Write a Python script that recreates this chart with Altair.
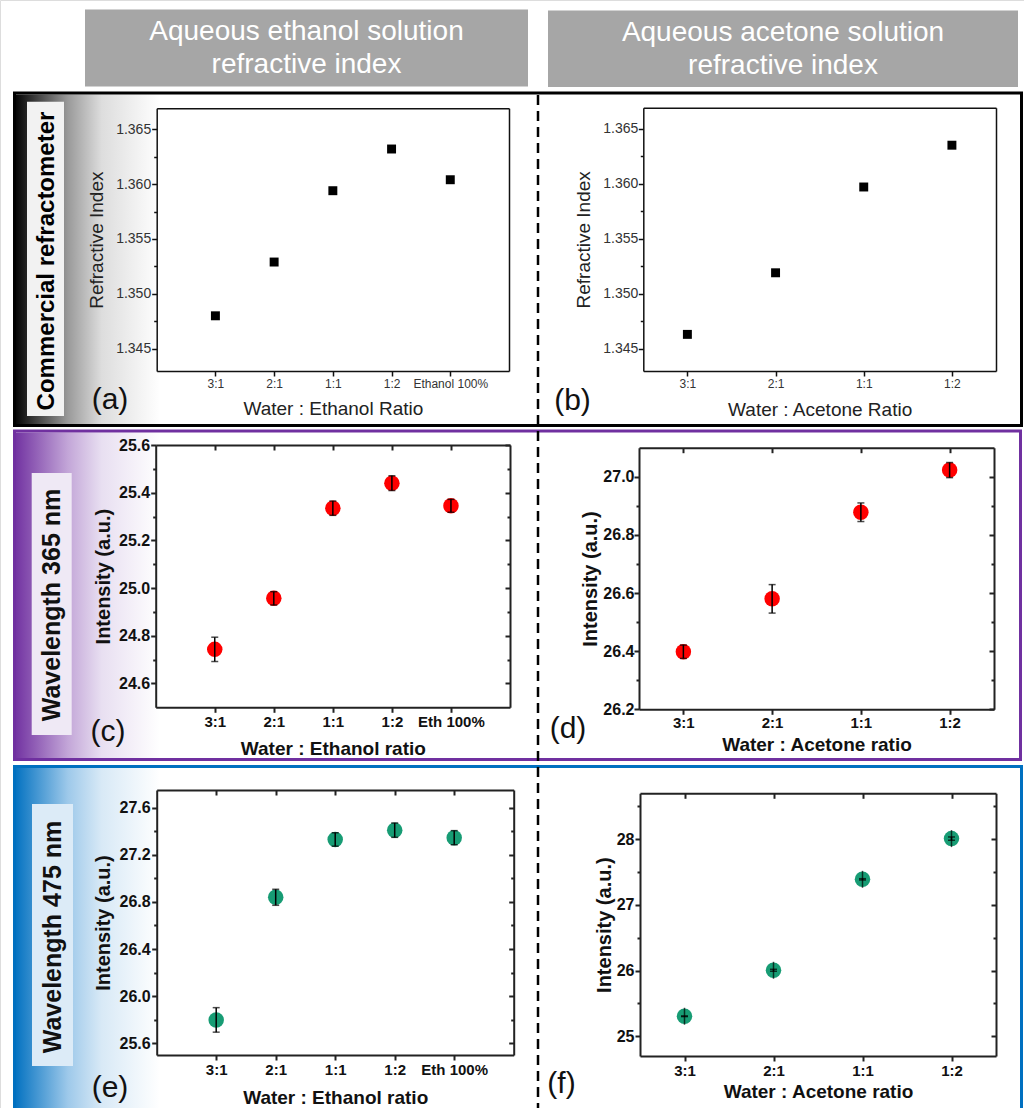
import altair as alt
import pandas as pd

W, H = 1024, 1108
FONT = "Liberation Sans"

# ---------------- data ----------------
ratio_eth_a = ["3:1", "2:1", "1:1", "1:2", "Ethanol 100%"]
ratio_eth = ["3:1", "2:1", "1:1", "1:2", "Eth 100%"]
ratio_ace = ["3:1", "2:1", "1:1", "1:2"]

ri_ethanol = [1.3480, 1.3529, 1.3594, 1.3632, 1.3604]
ri_acetone = [1.3463, 1.3519, 1.3597, 1.3635]

i365_ethanol = [24.743, 24.957, 25.335, 25.440, 25.345]
i365_ethanol_err = [0.051, 0.028, 0.030, 0.031, 0.027]
i365_acetone = [26.398, 26.580, 26.878, 27.023]
i365_acetone_err = [0.023, 0.049, 0.032, 0.026]

i475_ethanol = [25.798, 26.839, 27.330, 27.409, 27.345]
i475_ethanol_err = [0.104, 0.068, 0.057, 0.061, 0.060]
i475_acetone = [25.305, 26.005, 27.390, 28.010]
i475_acetone_err = [0.005, 0.015, 0.010, 0.025]

ri_major = [1.345, 1.350, 1.355, 1.360, 1.365]
ri_minor = [1.3475, 1.3525, 1.3575, 1.3625]
c_major = [24.6, 24.8, 25.0, 25.2, 25.4, 25.6]
c_minor = [24.7, 24.9, 25.1, 25.3, 25.5]
d_major = [26.2, 26.4, 26.6, 26.8, 27.0]
d_minor = [26.3, 26.5, 26.7, 26.9]
e_major = [25.6, 26.0, 26.4, 26.8, 27.2, 27.6]
e_minor = [25.8, 26.2, 26.6, 27.0, 27.4]
f_major = [25, 26, 27, 28]
f_minor = [25.5, 26.5, 27.5, 28.5]

ONE = alt.Data(values=[{"k": 1}])

STY_PLAIN = dict(frame="#111111", fw=1.5, ylab_fs=14, xlab_fs=12, lab_w="normal", lab_c="#333333",
                 ytitle_fs=19, xtitle_fs=19, title_w="normal", title_c="#222222")
STY_BOLD = dict(frame="#222222", fw=2, ylab_fs=16, xlab_fs=15, lab_w="bold", lab_c="#111111",
                ytitle_fs=20, xtitle_fs=19, title_w="bold", title_c="#111111")


def panel(cats, vals, errs, dom, box, pad, majors, minors, fmt, xtitle, ytitle, sty,
          ytitle_x, xtitle_y, ylab_pad, xlab_pad, mark, mirror_ticks, center_tick=False):
    x0, x1, y0, y1 = box
    df = pd.DataFrame({"cat": cats, "v": vals})
    if errs is not None:
        df["lo"] = [v - e for v, e in zip(vals, errs)]
        df["hi"] = [v + e for v, e in zip(vals, errs)]
    xs = alt.Scale(type="point", domain=cats, range=[x0, x1], padding=pad)
    ys = alt.Scale(domain=dom, range=[y1, y0], nice=False, zero=False)
    line = dict(grid=False, domainColor=sty["frame"], domainWidth=sty["fw"],
                tickColor=sty["frame"], tickWidth=sty["fw"], zindex=2)

    xa = alt.Axis(orient="bottom", offset=y1 - H, title=xtitle,
                  titleX=(x0 + x1) / 2, titleY=xtitle_y - y1, titleAlign="center",
                  titleBaseline="middle", titleAngle=0, titleFont=FONT,
                  titleFontSize=sty["xtitle_fs"], titleFontWeight=sty["title_w"],
                  titleColor=sty["title_c"], labelFont=FONT, labelFontSize=sty["xlab_fs"],
                  labelFontWeight=sty["lab_w"], labelColor=sty["lab_c"], labelAngle=0,
                  labelPadding=xlab_pad, labelOverlap=False, labelFlush=False,
                  tickSize=5, **line)
    ya = alt.Axis(orient="left", offset=-x0, values=majors, format=fmt, title=ytitle,
                  titleX=ytitle_x - x0, titleY=(y0 + y1) / 2, titleAngle=270,
                  titleAlign="center", titleBaseline="middle", titleFont=FONT,
                  titleFontSize=sty["ytitle_fs"], titleFontWeight=sty["title_w"],
                  titleColor=sty["title_c"], labelFont=FONT, labelFontSize=sty["ylab_fs"],
                  labelFontWeight=sty["lab_w"], labelColor=sty["lab_c"],
                  labelPadding=ylab_pad, labelOverlap=False, labelFlush=False,
                  tickSize=5, **line)
    # mirror frame: top edge (bottom-oriented axis => ticks point inward) and right edge
    xm = alt.Axis(orient="bottom", offset=y0 - H, title=None, labels=False,
                  ticks=mirror_ticks, tickSize=5, **line)
    ym = alt.Axis(orient="left", offset=-x1, values=majors, title=None, labels=False,
                  ticks=mirror_ticks, tickSize=5, **line)
    ymin_l = alt.Axis(orient="left", offset=-x0, values=minors, title=None, labels=False,
                      domain=False, tickSize=3, **line)
    ymin_r = alt.Axis(orient="left", offset=-x1, values=minors, title=None, labels=False,
                      domain=False, tickSize=3, **line)

    base = alt.Chart(df)
    X = lambda ax: alt.X("cat:N", scale=xs, axis=ax)
    Yv = lambda ax: alt.Y("v:Q", scale=ys, axis=ax)

    layers = []
    layers.append(base.mark_point(opacity=0).encode(x=X(xm), y=Yv(ym)))
    layers.append(base.mark_point(opacity=0).encode(x=X(None), y=Yv(ymin_l)))
    if mirror_ticks:
        layers.append(base.mark_point(opacity=0).encode(x=X(None), y=Yv(ymin_r)))
    layers.append(mark(base).encode(x=X(xa), y=Yv(ya)))
    if center_tick:
        layers.append(base.mark_tick(orient="vertical", size=17, thickness=1.5, color="black")
                      .encode(x=X(None), y=Yv(None)))
    if errs is not None:
        layers.append(base.mark_rule(strokeWidth=1.5, color="black").encode(
            x=X(None), y=alt.Y("lo:Q", scale=ys, axis=None), y2="hi:Q"))
        for f in ["lo", "hi"]:
            layers.append(base.mark_tick(orient="horizontal", size=7, thickness=1.5, color="black")
                          .encode(x=X(None), y=alt.Y(f"{f}:Q", scale=ys, axis=None)))
    return layers


def sq(b):
    return b.mark_square(size=80, color="black", opacity=1)


def red(b):
    return b.mark_circle(size=240, color="#ff0000", opacity=1)


def green(b):
    return b.mark_circle(size=240, color="#179c74", opacity=1)


def rect(x, x2, y, y2, **mk):
    return alt.Chart(ONE).mark_rect(**mk).encode(
        x=alt.value(x), x2=alt.value(x2), y=alt.value(y), y2=alt.value(y2))


def text(s, x, y, **mk):
    return alt.Chart(ONE).mark_text(font=FONT, **mk).encode(
        x=alt.value(x), y=alt.value(y), text=alt.value(s))


def grad(c0, c1, c2):
    return {"gradient": "linear", "x1": 0, "x2": 1, "y1": 0, "y2": 0,
            "stops": [{"offset": 0, "color": c0}, {"offset": 0.37, "color": c1},
                      {"offset": 0.6, "color": c2}, {"offset": 1, "color": "#ffffff"}]}


layers = []
# row label backgrounds
layers.append(rect(14, 160, 94.5, 424, fill=grad("#000000", "#9a9a9a", "#dddddd")))
layers.append(rect(14, 160, 432.5, 758, fill=grad("#7030a0", "#c3a6d8", "#e8dff1")))
layers.append(rect(14, 160, 768, 1108, fill=grad("#0070c0", "#9ec9ea", "#d8e9f6")))
layers.append(rect(27, 64, 101.7, 416, fill="#f2f2f2"))
layers.append(rect(31.7, 71.7, 473, 735, fill="#efe9f5"))
layers.append(rect(32, 73, 804, 1066, fill="#dcebf7"))
layers.append(text("Commercial refractometer", 47, 261, angle=270, fontSize=24,
                   fontWeight="bold", color="#000000", align="center", baseline="middle"))
layers.append(text("Wavelength 365 nm", 52, 605, angle=270, fontSize=25,
                   fontWeight="bold", color="#111111", align="center", baseline="middle"))
layers.append(text("Wavelength 475 nm", 53, 937, angle=270, fontSize=25,
                   fontWeight="bold", color="#111111", align="center", baseline="middle"))

# panels
layers += panel(ratio_eth_a, ri_ethanol, None, [1.34297, 1.36691], (156.7, 509, 108.3, 371), 1,
                ri_major, ri_minor, ".3f", "Water : Ethanol Ratio", "Refractive Index", STY_PLAIN,
                96.7, 408, 1.0, 2, sq, False)
layers += panel(ratio_ace, ri_acetone, None, [1.34297, 1.36691], (643.3, 996, 107.7, 371), 0.5,
                ri_major, ri_minor, ".3f", "Water : Acetone Ratio", "Refractive Index", STY_PLAIN,
                583.3, 409, 0.5, 2, sq, False)
layers += panel(ratio_eth, i365_ethanol, i365_ethanol_err, [24.5, 25.6], (155.7, 510, 445, 707.3), 1,
                c_major, c_minor, ".1f", "Water : Ethanol ratio", "Intensity (a.u.)", STY_BOLD,
                103, 748, 1.0, 2, red, True)
layers += panel(ratio_ace, i365_acetone, i365_acetone_err, [26.2, 27.1], (639, 994, 447.7, 709.3), 0.5,
                d_major, d_minor, ".1f", "Water : Acetone ratio", "Intensity (a.u.)", STY_BOLD,
                590, 744.3, 0.0, 1.5, red, True)
layers += panel(ratio_eth, i475_ethanol, i475_ethanol_err, [25.5, 27.75], (156.7, 513.7, 790, 1055), 1,
                e_major, e_minor, ".1f", "Water : Ethanol ratio", "Intensity (a.u.)", STY_BOLD,
                103.3, 1097, 1.5, 2.5, green, True)
layers += panel(ratio_ace, i475_acetone, i475_acetone_err, [24.7, 28.7], (640, 996, 793.3, 1056), 0.5,
                f_major, f_minor, "d", "Water : Acetone ratio", "Intensity (a.u.)", STY_BOLD,
                604, 1091.7, 1.0, 2, green, True, center_tick=True)

# row borders
layers.append(rect(14.5, 1021.5, 93, 425.5, fillOpacity=0, stroke="#000000", strokeWidth=3))
layers.append(rect(14.5, 1020.5, 431, 759.5, fillOpacity=0, stroke="#7030a0", strokeWidth=3))
layers.append(rect(14.5, 1021.5, 766.5, 1125, fillOpacity=0, stroke="#0070c0", strokeWidth=3))
# dashed divider
layers.append(alt.Chart(ONE).mark_rule(strokeDash=[10, 6], strokeWidth=2.5, color="#000000").encode(
    x=alt.value(538), y=alt.value(95), y2=alt.value(1108)))

# column headers
layers.append(rect(85, 528, 9.5, 86.5, fill="#a6a6a6"))
layers.append(rect(548, 1018, 10.5, 87, fill="#a6a6a6"))
for s, x, y in [("Aqueous ethanol solution", 306.5, 32), ("refractive index", 306.5, 65),
                ("Aqueous acetone solution", 783, 33), ("refractive index", 783, 66)]:
    layers.append(text(s, x, y, fontSize=28, color="#ffffff", align="center", baseline="middle"))

# panel letters
for s, x, y in [("(a)", 110, 409), ("(b)", 572.5, 410), ("(c)", 108, 741),
                ("(d)", 568, 738), ("(e)", 110, 1097), ("(f)", 561.5, 1093)]:
    layers.append(text(s, x, y, fontSize=30, color="#111111", align="center", baseline="alphabetic"))

chart = (alt.layer(*layers)
         .resolve_scale(x="independent", y="independent")
         .resolve_axis(x="independent", y="independent")
         .properties(width=W, height=H, padding=0, autosize=alt.AutoSizeParams(type="none"))
         .configure_view(stroke="transparent")
         .configure(font=FONT))

chart.save("out.html", embed_options={"renderer": "svg", "actions": False})
